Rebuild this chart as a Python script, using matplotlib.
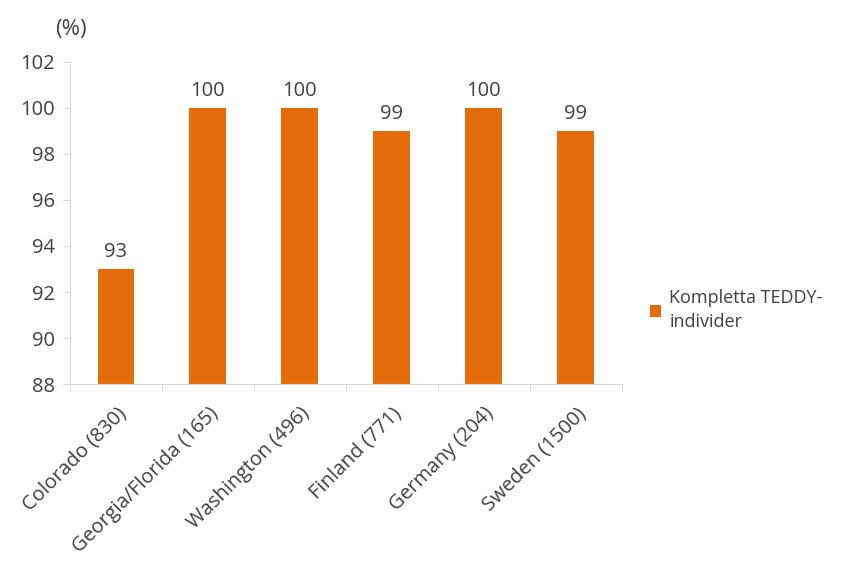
import numpy as np
import matplotlib.pyplot as plt
from matplotlib.patches import Patch

categories = ['Colorado (830)', 'Georgia/Florida (165)', 'Washington (496)',
              'Finland (771)', 'Germany (204)', 'Sweden (1500)']
values = [93, 100, 100, 99, 100, 99]
series_name = 'Kompletta TEDDY-\nindivider'

plt.rcParams['font.family'] = ['Open Sans', 'DejaVu Sans']

fig = plt.figure(figsize=(8.48, 5.61), dpi=100)
ax = fig.add_axes([0.0825, 0.3155, 0.6505, 0.574])

x = np.arange(len(categories))
bar_color = '#E46C0A'
text_color = '#404040'
ax.bar(x, values, width=0.4, color=bar_color, bottom=0)

for xi, v in zip(x, values):
    ax.text(xi, v + 0.3, str(v), ha='center', va='bottom', fontsize=14.5, color=text_color)

ax.set_ylim(88, 102)
ax.set_xlim(-0.5, len(categories) - 0.5)
ax.set_yticks(range(88, 103, 2))
ax.tick_params(axis='y', labelsize=14.5, labelcolor=text_color, length=5,
               color='#D9D9D9', pad=6)

ax.set_xticks(x)
ax.set_xticklabels(categories, rotation=45, ha='right', rotation_mode='anchor',
                   fontsize=14.5, color=text_color)
ax.tick_params(axis='x', length=0, pad=14)
ax.set_xticks(np.arange(-0.5, len(categories), 1), minor=True)
ax.tick_params(axis='x', which='minor', length=6, color='#D9D9D9')

for side in ['top', 'right']:
    ax.spines[side].set_visible(False)
for side in ['left', 'bottom']:
    ax.spines[side].set_color('#D9D9D9')

fig.text(0.065, 0.948, '(%)', fontsize=16, color=text_color, ha='left', va='center')

handles = [Patch(facecolor=bar_color, edgecolor='none', label=series_name)]
leg = fig.legend(handles=handles, loc='center left', bbox_to_anchor=(0.752, 0.447),
                 frameon=False, fontsize=13, handlelength=0.6, handleheight=0.6,
                 handletextpad=0.45, labelcolor=text_color, labelspacing=0.2,
                 borderpad=0.2)
for t in leg.get_texts():
    t.set_linespacing(1.45)

fig.savefig('out.png', dpi=100)
